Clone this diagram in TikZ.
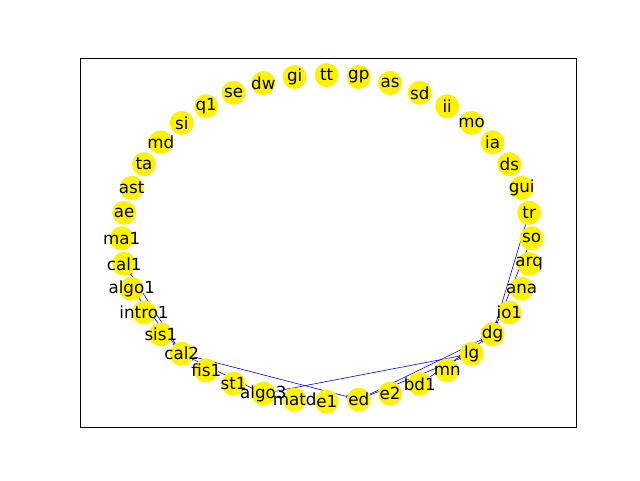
\documentclass[tikz,border=0pt]{standalone}
\usepackage{fontspec}
\setmainfont{DejaVu Sans}
\usetikzlibrary{arrows.meta}
\pgfdeclarelayer{bg}
\pgfsetlayers{bg,main}
\newcommand{\courselist}{so,tr,gui,ds,ia,mo,ii,sd,as,gp,tt,gi,dw,se,q1,si,md,ta,ast,ae,ma1,cal1,algo1,intro1,sis1,cal2,fis1,st1,algo3,matd,e1,ed,e2,bd1,mn,lg,dg,io1,ana,arq}

\begin{document}
\begin{tikzpicture}[x=1pt,y=1pt,
  vertex/.style={circle,fill=yellow,minimum size=24pt,inner sep=0pt},
  lbl/.style={inner sep=0pt,font=\fontsize{16.7}{20}\selectfont},
  link/.style={-{Stealth[length=4pt,width=3pt]},blue,line width=0.6pt,shorten >=-3pt}]
  \useasboundingbox (0,0) rectangle (640,480);
  \draw[line width=0.8pt] (80,53) rectangle (576,422);
  % courses on the ring
  \foreach \n [count=\i from 0] in \courselist
    \node[vertex] (\n) at ({326.7+205*cos(9*\i)},{241.7+163.3*sin(9*\i)}) {};
  \foreach \n in \courselist
    \node[lbl] (\n-l) at (\n) {\n};
  \begin{pgfonlayer}{bg}
  \path[link]
    (cal2) edge (cal1) edge (ed)
    (algo1) edge (cal2)
    (algo3) edge (cal2) edge (lg)
    (ed) edge (lg) edge (dg)
    (bd1) edge (dg)
    (tr) edge (dg)
    (so) edge (dg);
  \end{pgfonlayer}
\end{tikzpicture}
\end{document}
